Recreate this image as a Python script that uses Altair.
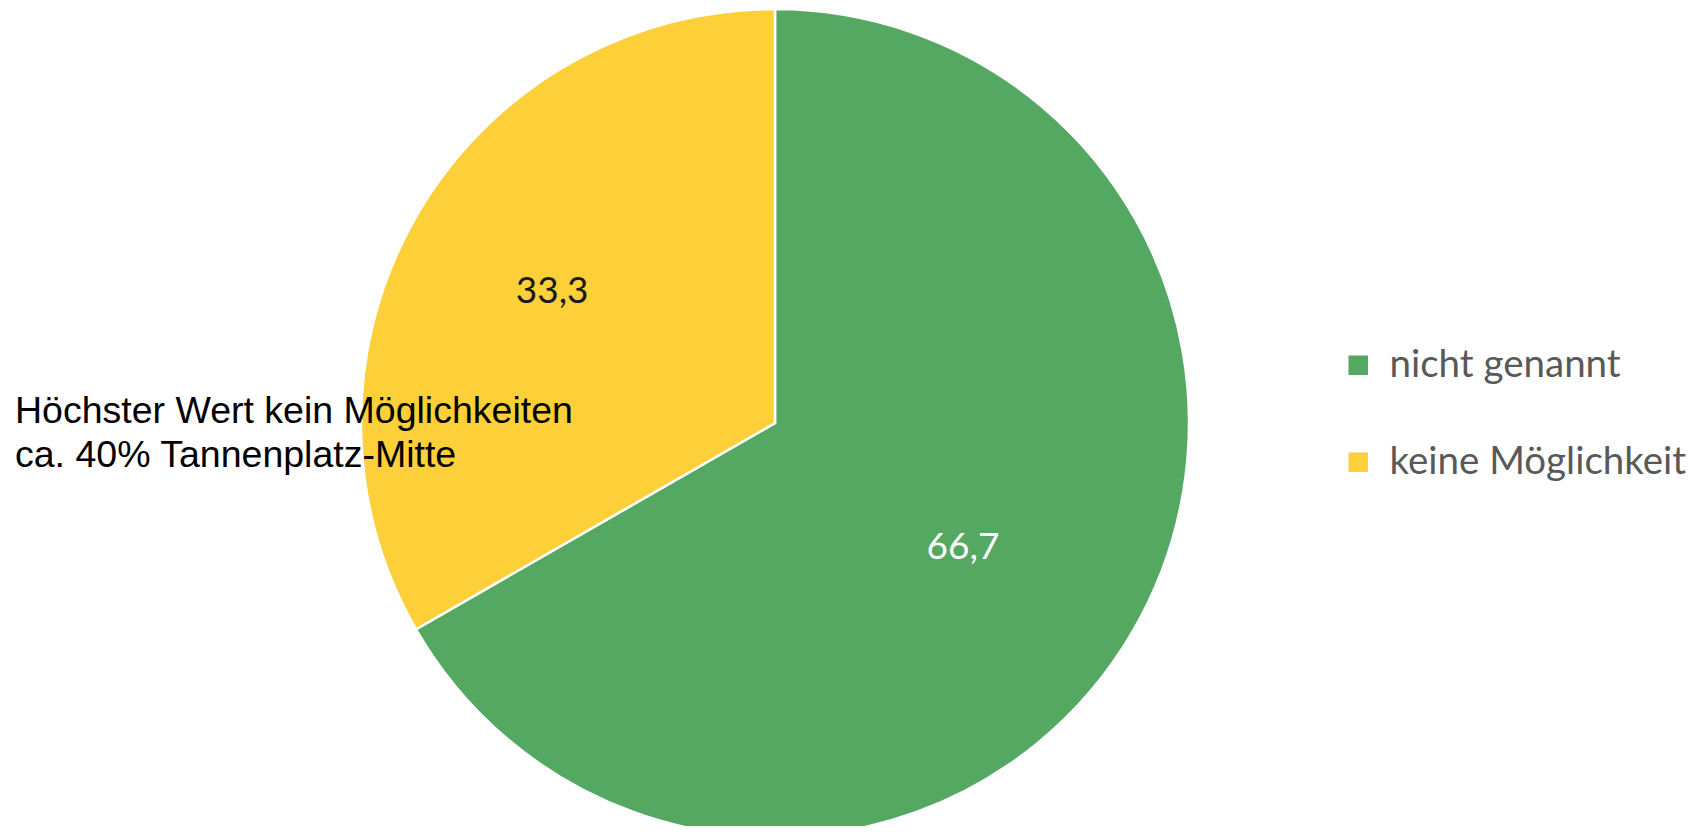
import altair as alt
import pandas as pd

categories = ["nicht genannt", "keine Möglichkeit"]
values = [66.7, 33.3]
labels = ["66,7", "33,3"]
colors = ["#55A862", "#FDCF38"]
label_colors = ["#FFFFFF", "#1A1A1A"]
note_lines = ["Höchster Wert kein Möglichkeiten", "ca. 40% Tannenplatz-Mitte"]

df = pd.DataFrame({
    "cat": categories,
    "val": values,
    "lab": labels,
    "ord": list(range(len(categories))),
})

W, H = 1681, 818
CX, CY = 767, 415
R = 414
LABEL_RADII = [223, 261]
LABEL_DX = [-5, 3]
LABEL_DY = [13, 0]

color_scale = alt.Scale(domain=categories, range=colors)

base = alt.Chart(df).encode(
    theta=alt.Theta("val:Q", stack=True),
    order=alt.Order("ord:Q"),
)

arcs = base.mark_arc(radius=R, stroke="white", strokeWidth=2.5).encode(
    x=alt.value(CX),
    y=alt.value(CY),
    color=alt.Color(
        "cat:N",
        scale=color_scale,
        sort=categories,
        legend=alt.Legend(
            title=None,
            orient="none",
            legendX=1331,
            legendY=338,
            symbolType="square",
            symbolSize=380,
            symbolStrokeWidth=0,
            symbolOpacity=1,
            labelFont="Lato",
            labelFontSize=38.5,
            labelColor="#595959",
            labelOffset=12,
            rowPadding=58,
            padding=0,
            labelLimit=500,
        ),
    ),
)

text_layers = []
for cat, rad, lc, dx, dy in zip(categories, LABEL_RADII, label_colors, LABEL_DX, LABEL_DY):
    text_layers.append(
        base.mark_text(radius=rad, font="Lato", fontSize=37, align="center",
                       baseline="middle", color=lc, dx=dx, dy=dy).encode(
            x=alt.value(CX),
            y=alt.value(CY),
            text=alt.condition(alt.datum.cat == cat, "lab:N", alt.value("")),
        )
    )

note = alt.Chart(pd.DataFrame({"t": [note_lines]})).mark_text(
    font="Liberation Sans", fontSize=37.5, align="left", baseline="alphabetic",
    lineHeight=44, color="#000000",
).encode(text="t", x=alt.value(7), y=alt.value(415))

chart = alt.layer(arcs, *text_layers, note).properties(
    width=W, height=H,
    autosize=alt.AutoSizeParams(type="none"),
    padding=0,
).configure_view(stroke=None)

chart.save("out.html", embed_options={"renderer": "svg", "actions": False})
